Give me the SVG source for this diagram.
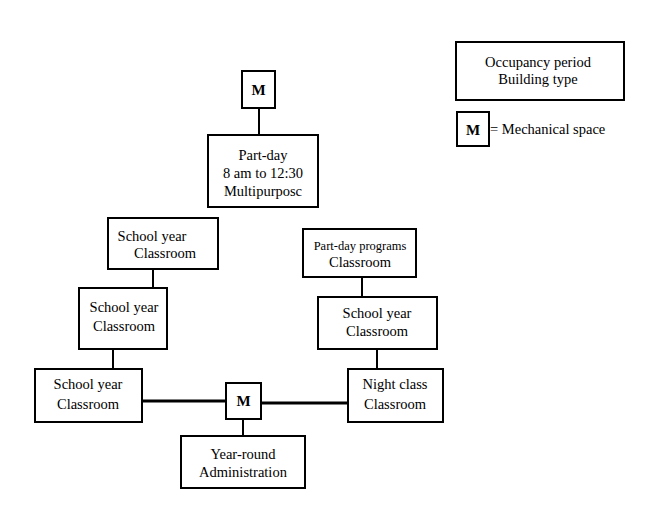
<svg xmlns="http://www.w3.org/2000/svg" width="645" height="521" viewBox="0 0 645 521">
<style>
  .box { fill: #fff; stroke: #000; stroke-width: 2; }
  .t { font-family: "Liberation Serif", "Times New Roman", serif; font-size: 14.5px; fill: #000; text-anchor: middle; }
  .ts { font-size: 12.5px; }
  .m { font-size: 15px; font-weight: 600; }
  .lnk { stroke: #000; stroke-width: 2; fill: none; }
  .thick { stroke-width: 3; }
</style>
<rect width="645" height="521" fill="#fff"/>
<g id="connectors">
  <line class="lnk" x1="259" y1="108" x2="259" y2="135"/>
  <line class="lnk" x1="153" y1="269" x2="153" y2="288"/>
  <line class="lnk" x1="113" y1="349" x2="113" y2="369"/>
  <line class="lnk thick" x1="142" y1="401" x2="226" y2="401"/>
  <line class="lnk thick" x1="261" y1="403" x2="348" y2="403"/>
  <line class="lnk" x1="243" y1="419" x2="243" y2="436"/>
  <line class="lnk" x1="377" y1="349" x2="377" y2="369"/>
  <line class="lnk" x1="362" y1="277" x2="362" y2="297"/>
</g>
<g id="legend">
  <rect class="box" x="456" y="42" width="168" height="58"/>
  <text class="t" x="538" y="67">Occupancy period</text>
  <text class="t" x="538" y="84">Building type</text>
</g>
<g id="legend-m">
  <rect class="box" x="457" y="112" width="32" height="34"/>
  <text class="t m" x="473" y="135">M</text>
  <text class="t" x="490" y="134" style="text-anchor:start">= Mechanical space</text>
</g>
<g id="m-top">
  <rect class="box" x="242" y="71" width="33" height="37"/>
  <text class="t m" x="258.5" y="95">M</text>
</g>
<g id="part-day">
  <rect class="box" x="208" y="135" width="110" height="72"/>
  <text class="t" x="263" y="160">Part-day</text>
  <text class="t" x="263" y="178">8 am to 12:30</text>
  <text class="t" x="263" y="196">Multipurposc</text>
</g>
<g id="school-year-1">
  <rect class="box" x="108" y="218" width="110" height="51"/>
  <text class="t" x="152" y="241">School year</text>
  <text class="t" x="165" y="258">Classroom</text>
</g>
<g id="school-year-2">
  <rect class="box" x="79" y="288" width="88" height="61"/>
  <text class="t" x="124" y="312">School year</text>
  <text class="t" x="124" y="331">Classroom</text>
</g>
<g id="school-year-3">
  <rect class="box" x="35" y="369" width="107" height="53"/>
  <text class="t" x="88" y="389">School year</text>
  <text class="t" x="88" y="409">Classroom</text>
</g>
<g id="m-bottom">
  <rect class="box" x="226" y="383" width="35" height="36"/>
  <text class="t m" x="243.5" y="406">M</text>
</g>
<g id="year-round">
  <rect class="box" x="181" y="436" width="124" height="52"/>
  <text class="t" x="243" y="459">Year-round</text>
  <text class="t" x="243" y="477">Administration</text>
</g>
<g id="night-class">
  <rect class="box" x="348" y="369" width="95" height="53"/>
  <text class="t" x="395" y="389">Night class</text>
  <text class="t" x="395" y="409">Classroom</text>
</g>
<g id="school-year-4">
  <rect class="box" x="318" y="297" width="119" height="52"/>
  <text class="t" x="377" y="318">School year</text>
  <text class="t" x="377" y="336">Classroom</text>
</g>
<g id="part-day-programs">
  <rect class="box" x="303" y="229" width="113" height="48"/>
  <text class="t ts" x="360" y="250">Part-day programs</text>
  <text class="t" x="360" y="267">Classroom</text>
</g>
</svg>
